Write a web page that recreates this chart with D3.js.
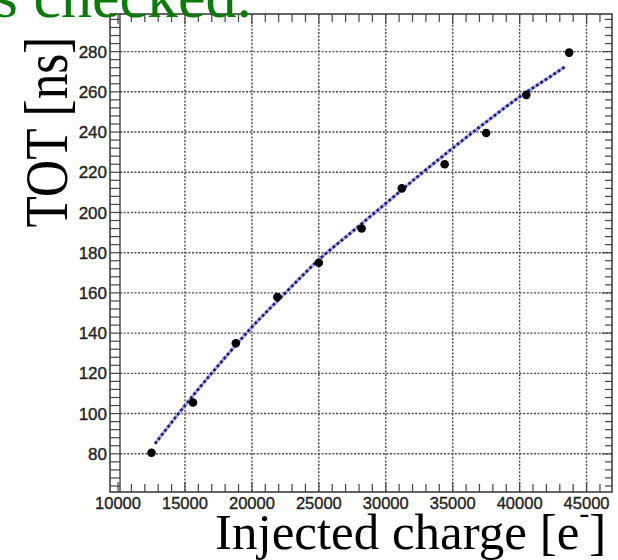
<!DOCTYPE html>
<html>
<head>
<meta charset="utf-8">
<script src="https://cdn.jsdelivr.net/npm/d3@7"></script>
<style>
  html, body { margin: 0; padding: 0; background: #fff; }
  svg { display: block; }
</style>
</head>
<body>
<svg id="chart" width="618" height="560"></svg>
<script>
// Data
const charge = [12500, 15600, 18800, 21900, 25000, 28200, 31200, 34400, 37500, 40500, 43700];
const tot    = [80.5, 105.5, 135, 158, 175, 192, 212, 224, 239.5, 258.5, 279.5];

// Fit curve
const fitCharge = [12760, 15000, 17500, 20000, 22500, 25000, 27500, 30000, 32500, 35000, 37500, 40000, 42500, 43390];
const fitTot    = [85, 104, 124, 143, 160, 176.5, 190.5, 204.5, 218.5, 232, 245, 257.5, 268.5, 272.5];

const xTickValues = [10000, 15000, 20000, 25000, 30000, 35000, 40000, 45000];
const yTickValues = [80, 100, 120, 140, 160, 180, 200, 220, 240, 260, 280];

const titleText = "s checked.";
const yTitle = "TOT [ns]";
const xTitleMain = "Injected charge [e";
const xTitleSup = "-";
const xTitleEnd = "]";

const svg = d3.select("#chart");
const L = 110, R = 612, T = 14, B = 492;

const x = d3.scaleLinear().domain([9400, 46900]).range([L, R]);
const y = d3.scaleLinear().domain([61, 298.7]).range([B, T]);

svg.append("rect").attr("width", 618).attr("height", 560).attr("fill", "#fff");

// Gridlines
const grid = svg.append("g").attr("stroke", "#4a4a4a").attr("stroke-width", 1.4).attr("stroke-dasharray", "2,1.6");
grid.selectAll(".gx").data(xTickValues.filter(d => d > 10000)).join("line")
  .attr("x1", d => x(d)).attr("x2", d => x(d)).attr("y1", T).attr("y2", B);
grid.selectAll(".gy").data(yTickValues).join("line")
  .attr("x1", L + 10).attr("x2", R).attr("y1", d => y(d)).attr("y2", d => y(d));

// Frame
svg.append("rect").attr("x", L).attr("y", T).attr("width", R - L).attr("height", B - T)
  .attr("fill", "none").attr("stroke", "#333").attr("stroke-width", 1.5);

// Ladder on left
svg.append("line").attr("x1", L + 10).attr("x2", L + 10).attr("y1", T).attr("y2", B)
  .attr("stroke", "#333").attr("stroke-width", 1.3);
const minorY = d3.range(64, 298, 4);
svg.append("g").selectAll("line").data(minorY).join("line")
  .attr("x1", L).attr("x2", L + 10).attr("y1", d => y(d)).attr("y2", d => y(d))
  .attr("stroke", "#444").attr("stroke-width", 1.2);

// Right ticks
svg.append("g").selectAll("line").data(minorY).join("line")
  .attr("x1", R).attr("x2", d => R - (d % 20 === 0 ? 10 : 7)).attr("y1", d => y(d)).attr("y2", d => y(d))
  .attr("stroke", "#444").attr("stroke-width", 1.2);

// Top and bottom minor ticks
const minorX = d3.range(10000, 46900, 1000);
svg.append("g").selectAll("line").data(minorX).join("line")
  .attr("x1", d => x(d)).attr("x2", d => x(d)).attr("y1", B).attr("y2", d => B - (d % 5000 === 0 ? 10 : 8))
  .attr("stroke", "#444").attr("stroke-width", 1.2);
svg.append("g").selectAll("line").data(minorX).join("line")
  .attr("x1", d => x(d)).attr("x2", d => x(d)).attr("y1", T).attr("y2", d => T + (d % 5000 === 0 ? 10 : 8))
  .attr("stroke", "#444").attr("stroke-width", 1.2);

// Tick labels
const tickFont = "'Liberation Sans', Arial, sans-serif";
svg.append("g").selectAll("text").data(yTickValues).join("text")
  .attr("x", 107).attr("y", d => y(d)).attr("dy", "0.36em")
  .attr("text-anchor", "end").attr("font-family", tickFont).attr("font-size", 17)
  .attr("fill", "#222").attr("stroke", "#222").attr("stroke-width", 0.35).text(d => d);
svg.append("g").selectAll("text").data(xTickValues).join("text")
  .attr("x", d => x(d)).attr("y", 509)
  .attr("text-anchor", "middle").attr("font-family", tickFont).attr("font-size", 16.5)
  .attr("fill", "#222").attr("stroke", "#222").attr("stroke-width", 0.35).text(d => d);

// Fit curve
const fitData = fitCharge.map((c, i) => [c, fitTot[i]]);
const lineGen = d3.line().x(d => x(d[0])).y(d => y(d[1])).curve(d3.curveMonotoneX);
svg.append("path").attr("d", lineGen(fitData)).attr("fill", "none")
  .attr("stroke", "#a8a8ee").attr("stroke-width", 3.2);
svg.append("path").attr("d", lineGen(fitData)).attr("fill", "none")
  .attr("stroke", "#1c1c6a").attr("stroke-width", 2.8).attr("stroke-dasharray", "2.6,2.6");

// Points
svg.append("g").selectAll("circle").data(charge.map((c, i) => [c, tot[i]])).join("circle")
  .attr("cx", d => x(d[0])).attr("cy", d => y(d[1])).attr("r", 4.3).attr("fill", "#000");

// Titles
const serif = "'Liberation Serif', 'Times New Roman', serif";
svg.append("text").attr("x", 252).attr("y", 17).attr("text-anchor", "end")
  .attr("font-family", serif).attr("font-size", 62).attr("fill", "#0b7a0b").text(titleText);

svg.append("text").attr("transform", "translate(67,132) rotate(-90)")
  .attr("text-anchor", "middle").attr("font-family", serif).attr("font-size", 62)
  .attr("textLength", 191).attr("lengthAdjust", "spacingAndGlyphs")
  .attr("fill", "#000").text(yTitle);

const xt = svg.append("text").attr("x", 215).attr("y", 549)
  .attr("font-family", serif).attr("font-size", 51).attr("fill", "#000");
xt.append("tspan").text(xTitleMain);
xt.append("tspan").attr("dy", -26).attr("font-size", 30).text(xTitleSup);
xt.append("tspan").attr("dy", 26).text(xTitleEnd);
</script>
</body>
</html>
